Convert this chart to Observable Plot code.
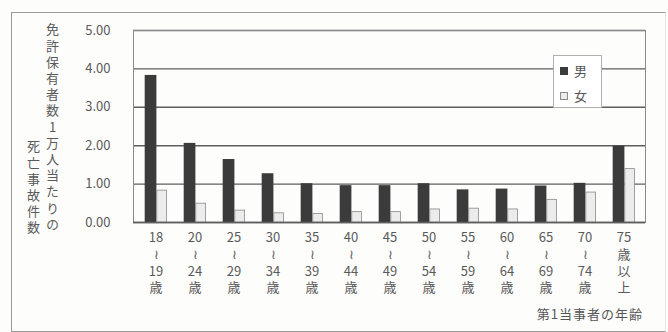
<!DOCTYPE html>
<html>
<head>
<meta charset="utf-8">
<script src="https://cdn.jsdelivr.net/npm/d3@7"></script>
<script src="https://cdn.jsdelivr.net/npm/@observablehq/plot@0.6"></script>
<style>
  html, body { margin: 0; padding: 0; background: #fdfdfc; }
  #wrap { position: relative; width: 668px; height: 332px; overflow: hidden;
          font-family: "Noto Sans CJK JP", "Noto Sans", sans-serif; color: #555; }
  #wrap svg { position: absolute; left: 0; top: 0; }
  .outer { position: absolute; left: 11px; top: 12px; width: 653px; height: 318px;
           border: 1px solid #9a9a9a; border-right-color: #e4e4e4; }
  .ytitle { position: absolute; writing-mode: vertical-rl; text-orientation: upright;
            font-size: 13px; line-height: 18px; letter-spacing: 3.2px; color: #5a5a5a; }
  .xtitle { position: absolute; right: 25px; top: 304px; font-size: 13px; letter-spacing: 1px; color: #555; }
  .legend { position: absolute; left: 553px; top: 55px; width: 47px; height: 51px;
            background: #fff; border: 1px solid #b0b0b0; font-size: 13px; }
  .legend .row { position: absolute; left: 6px; display: flex; align-items: center; gap: 6px; }
  .legend .sw { width: 8px; height: 8px; box-sizing: border-box; }
</style>
</head>
<body>
<div id="wrap">
  <div class="outer"></div>
</div>
<script>
const ages = ["18\n≀\n19\n歳","20\n≀\n24\n歳","25\n≀\n29\n歳","30\n≀\n34\n歳","35\n≀\n39\n歳","40\n≀\n44\n歳","45\n≀\n49\n歳","50\n≀\n54\n歳","55\n≀\n59\n歳","60\n≀\n64\n歳","65\n≀\n69\n歳","70\n≀\n74\n歳","75\n歳\n以\n上"];
const male   = [3.83, 2.06, 1.64, 1.27, 1.01, 0.96, 0.96, 1.01, 0.85, 0.87, 0.95, 1.02, 1.99];
const female = [0.83, 0.49, 0.31, 0.24, 0.22, 0.27, 0.27, 0.34, 0.36, 0.34, 0.59, 0.78, 1.39];
const yTicks = [0, 1, 2, 3, 4, 5];
const seriesNames = ["男", "女"];
const yTitleCols = ["免許保有者数1万人当たりの", "死亡事故件数"];
const xTitle = "第1当事者の年齢";

const maleData = ages.map((a, i) => ({age: a, value: male[i]}));
const femaleData = ages.map((a, i) => ({age: a, value: female[i]}));

const maleColor = "#3b3b3b";
const femaleColor = "#ececec";

const chart = Plot.plot({
  width: 668,
  height: 332,
  marginLeft: 133,
  marginRight: 23,
  marginTop: 30,
  marginBottom: 110,
  style: {background: "transparent", fontFamily: "'Noto Sans CJK JP', sans-serif", fontSize: "13px", color: "#5a5a5a"},
  x: {domain: ages, padding: 0},
  y: {domain: [0, 5]},
  marks: [
    Plot.ruleY(yTicks, {stroke: "#5e5e5e", strokeWidth: 1.4}),
    Plot.barY(maleData, {x: "age", y: "value", fill: maleColor, insetLeft: 8.7, insetRight: 18.6}),
    Plot.barY(femaleData, {x: "age", y: "value", fill: femaleColor, stroke: "#8a8a8a", strokeWidth: 0.8, insetLeft: 20.8, insetRight: 8.4}),
    Plot.frame({stroke: "#8a8a8a", strokeWidth: 1}),
    Plot.ruleY([0], {stroke: "#5e5e5e", strokeWidth: 1.4}),
    Plot.axisY(yTicks, {tickSize: 0, tickPadding: 23, tickFormat: d => d.toFixed(2), label: null, fontSize: 13}),
    Plot.axisX({tickSize: 0, tickPadding: 8, label: null, lineHeight: 1.28, fontSize: 13})
  ]
});
const wrap = document.getElementById("wrap");
wrap.appendChild(chart);

// Y title: two vertical columns
const colPos = [{left: 43, top: 23}, {left: 24, top: 140}];
yTitleCols.forEach((t, i) => {
  const d = document.createElement("div");
  d.className = "ytitle";
  d.style.left = colPos[i].left + "px";
  d.style.top = colPos[i].top + "px";
  d.textContent = t;
  wrap.appendChild(d);
});

// X title
const xt = document.createElement("div");
xt.className = "xtitle";
xt.textContent = xTitle;
wrap.appendChild(xt);

// Legend
const lg = document.createElement("div");
lg.className = "legend";
seriesNames.forEach((name, i) => {
  const row = document.createElement("div");
  row.className = "row";
  row.style.top = (i === 0 ? 5 : 30) + "px";
  const sw = document.createElement("div");
  sw.className = "sw";
  sw.style.background = i === 0 ? maleColor : femaleColor;
  sw.style.border = i === 0 ? "none" : "1px solid #8a8a8a";
  const tx = document.createElement("span");
  tx.textContent = name;
  row.appendChild(sw);
  row.appendChild(tx);
  lg.appendChild(row);
});
wrap.appendChild(lg);
</script>
</body>
</html>
